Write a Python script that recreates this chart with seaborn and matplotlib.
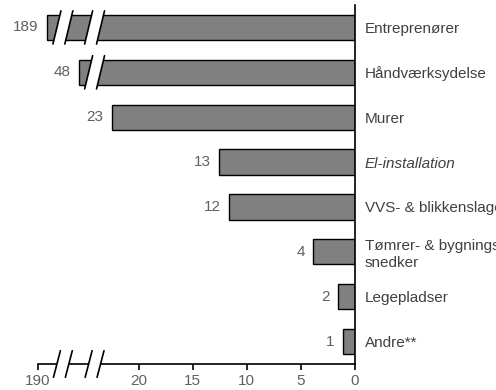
import numpy as np
import matplotlib
matplotlib.use("Agg")
import matplotlib.pyplot as plt
import seaborn as sns
from matplotlib.transforms import blended_transform_factory

# ── data ──────────────────────────────────────────────────────────────────────
categories = ["Entreprenører", "Håndværksydelse", "Murer", "El-installation",
              "VVS- & blikkenslager", "Tømrer- & bygnings-\nsnedker",
              "Legepladser", "Andre**"]
values = [189, 48, 22.5, 12.55, 11.6, 3.85, 1.54, 1.13]
value_labels = ["189", "48", "23", "13", "12", "4", "2", "1"]
tick_values = [190, 20, 15, 10, 5, 0]
tick_labels = ["190", "20", "15", "10", "5", "0"]

# broken axis scale: real value -> position on the drawn axis
BREAK_IN = [0, 23, 48, 189, 190]
BREAK_OUT = [0, 23, 25.5, 28.5, 29.3]
BREAK_CENTERS = [24.07, 27.0]


def to_axis(v):
    return np.interp(v, BREAK_IN, BREAK_OUT)


sns.set_theme(style="white")
plt.rcParams["font.family"] = ["Liberation Sans", "DejaVu Sans"]

NUM_COLOR = "#606060"
CAT_COLOR = "#404040"

fig = plt.figure(figsize=(4.96, 3.9), dpi=100)
ax = fig.add_axes([38 / 496, 1 - 364 / 390, (355 - 38) / 496, (364 - 5) / 390])

pos = to_axis(values)
sns.barplot(x=pos, y=categories, orient="h", color="#808080", saturation=1,
            edgecolor="black", linewidth=1, width=0.56, ax=ax)

ax.set_xlim(to_axis(190), 0)
ax.set_ylim(len(categories) - 0.5, -0.5)

# value labels
for i, (p, lab) in enumerate(zip(pos, value_labels)):
    ax.annotate(lab, (p, i), xytext=(-6, 0), textcoords="offset points",
                ha="right", va="center", fontsize=11, color=NUM_COLOR)

# breaks on bars
g, s, h = 0.55, 0.37, 0.37
for i, p in enumerate(pos):
    for c in BREAK_CENTERS:
        if p > c + g + s:
            poly = [(c + g + s, i + h), (c + g - s, i - h),
                    (c - g - s, i - h), (c - g + s, i + h)]
            ax.add_patch(plt.Polygon(poly, closed=True, facecolor="white",
                                     edgecolor="none", zorder=5))
            for xc in (c - g, c + g):
                ax.plot([xc + s, xc - s], [i + h, i - h], color="black",
                        lw=1.2, zorder=6)

# breaks on the x axis
tr = blended_transform_factory(ax.transData, ax.transAxes)
ha, sa = 0.037, 0.32
for c in BREAK_CENTERS:
    poly = [(c + g + sa, -ha), (c + g - sa, ha), (c - g - sa, ha), (c - g + sa, -ha)]
    ax.add_patch(plt.Polygon(poly, closed=True, facecolor="white", edgecolor="none",
                             transform=tr, clip_on=False, zorder=5))
    for xc in (c - g, c + g):
        ax.plot([xc + sa, xc - sa], [-ha, ha], color="black", lw=1.2,
                transform=tr, clip_on=False, zorder=6)

# axes styling
for side in ("top", "left"):
    ax.spines[side].set_visible(False)
for side in ("bottom", "right"):
    ax.spines[side].set_color("black")
    ax.spines[side].set_linewidth(1.2)

ax.set_xticks(to_axis(tick_values))
ax.set_xticklabels(tick_labels)
ax.tick_params(axis="x", direction="out", length=4, width=1.2, color="black",
               pad=3.5, labelsize=11, labelcolor=NUM_COLOR, bottom=True)
ax.yaxis.tick_right()
ax.tick_params(axis="y", length=0, pad=7, labelsize=11, labelcolor=CAT_COLOR,
               left=False, right=False)
for lab in ax.get_yticklabels():
    lab.set_ha("left")
    if lab.get_text() == "El-installation":
        lab.set_style("italic")
ax.set_xlabel("")
ax.set_ylabel("")
ax.grid(False)

fig.savefig("out.png", dpi=100)
